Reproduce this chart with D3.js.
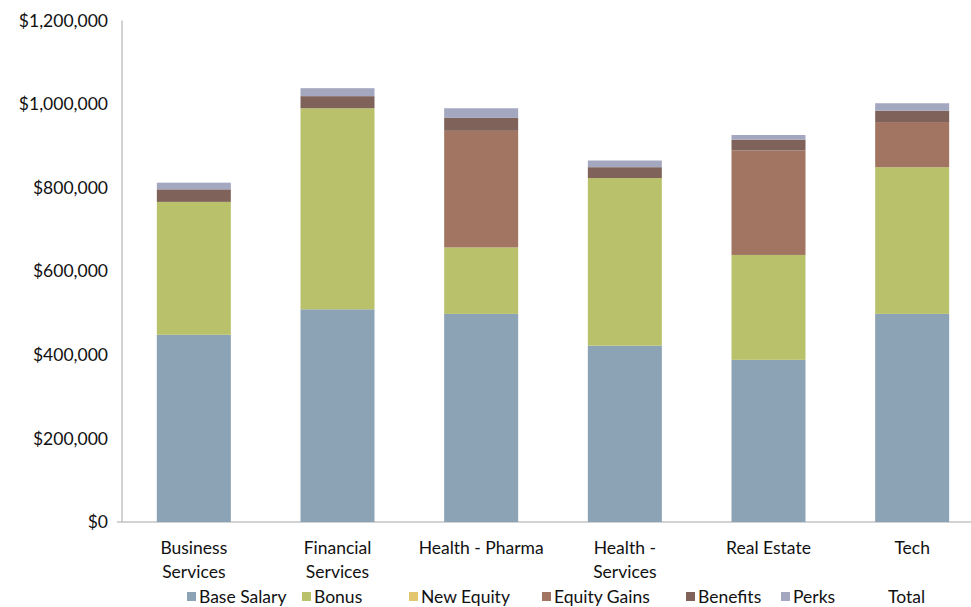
<!DOCTYPE html>
<html><head><meta charset="utf-8">
<script src="https://cdn.jsdelivr.net/npm/d3@7"></script>
<style>
body{margin:0;background:#fff;}
svg text{font-family:"Lato","Open Sans",sans-serif;fill:#111;}
</style></head>
<body><svg id="c" width="971" height="607"></svg>
<script>
const categories = ["Business Services","Financial Services","Health - Pharma","Health - Services","Real Estate","Tech"];
const categoryLines = [["Business","Services"],["Financial","Services"],["Health - Pharma"],["Health -","Services"],["Real Estate"],["Tech"]];
const seriesNames = ["Base Salary","Bonus","New Equity","Equity Gains","Benefits","Perks"];
const baseSalary  = [448000, 509000, 498000, 422000, 388000, 498000];
const bonus       = [318000, 481000, 159000, 401000, 251000, 351000];
const newEquity   = [0, 0, 0, 0, 0, 0];
const equityGains = [0, 0, 279000, 0, 250000, 108000];
const benefits    = [30000, 29000, 31000, 26000, 26000, 27000];
const perks       = [16000, 19000, 23000, 16000, 11000, 18000];
const yTicks = [0, 200000, 400000, 600000, 800000, 1000000, 1200000];
const colors = ["#8CA2B5","#B9C16B","#E2C76F","#A27562","#7F635A","#A3A7BF"];

(function(){
const svg = d3.select("#c");
const pL = 122, pR = 984, pT = 20.5, pB = 522;
const fs = 17.5;

const seriesValues = [baseSalary, bonus, newEquity, equityGains, benefits, perks];
const rows = categories.map((c, i) => {
  const r = {cat: c};
  seriesNames.forEach((s, j) => r[s] = seriesValues[j][i]);
  return r;
});
const stacked = d3.stack().keys(seriesNames)(rows);

const x = d3.scaleBand().domain(categories).range([pL, pR]).paddingInner(0.485).paddingOuter(0.2425);
const y = d3.scaleLinear().domain([0, 1200000]).range([pB, pT]);

svg.append("line").attr("x1", pL).attr("x2", pL).attr("y1", pT).attr("y2", pB).attr("stroke", "#a6a6a6");
svg.append("line").attr("x1", pL - 5).attr("x2", 971).attr("y1", pB).attr("y2", pB).attr("stroke", "#a6a6a6");

svg.append("g").selectAll("text").data(yTicks).join("text")
  .attr("x", 108).attr("y", d => y(d)).attr("dy", "0.35em")
  .attr("text-anchor", "end").attr("font-size", fs)
  .text(d => "$" + d3.format(",")(d));

svg.append("g").selectAll("g").data(stacked).join("g")
  .attr("fill", (d, i) => colors[i])
  .selectAll("rect").data(d => d).join("rect")
  .attr("x", d => x(d.data.cat)).attr("width", x.bandwidth())
  .attr("y", d => y(d[1])).attr("height", d => y(d[0]) - y(d[1]));

svg.append("g").selectAll("text").data(categories).join("text")
  .attr("text-anchor", "middle").attr("font-size", fs)
  .attr("y", 554)
  .each(function(d, i) {
    const t = d3.select(this);
    const cx = x(d) + x.bandwidth() / 2;
    categoryLines[i].forEach((l, k) => t.append("tspan").attr("x", cx).attr("dy", k ? 24 : 0).text(l));
  });

const legendItems = seriesNames.map((s, i) => ({name: s, color: colors[i]})).concat([{name: "Total", color: null}]);
const legendX = [187, 302, 409, 542, 686, 781, 876];
const lg = svg.append("g").selectAll("g").data(legendItems).join("g")
  .attr("transform", (d, i) => `translate(${legendX[i]},597)`);
lg.filter(d => d.color).append("rect").attr("x", 0).attr("y", -5).attr("width", 9).attr("height", 9).attr("fill", d => d.color);
lg.append("text").attr("x", 12).attr("dy", "0.35em").attr("font-size", fs).text(d => d.name);
})();
</script>
</body></html>
